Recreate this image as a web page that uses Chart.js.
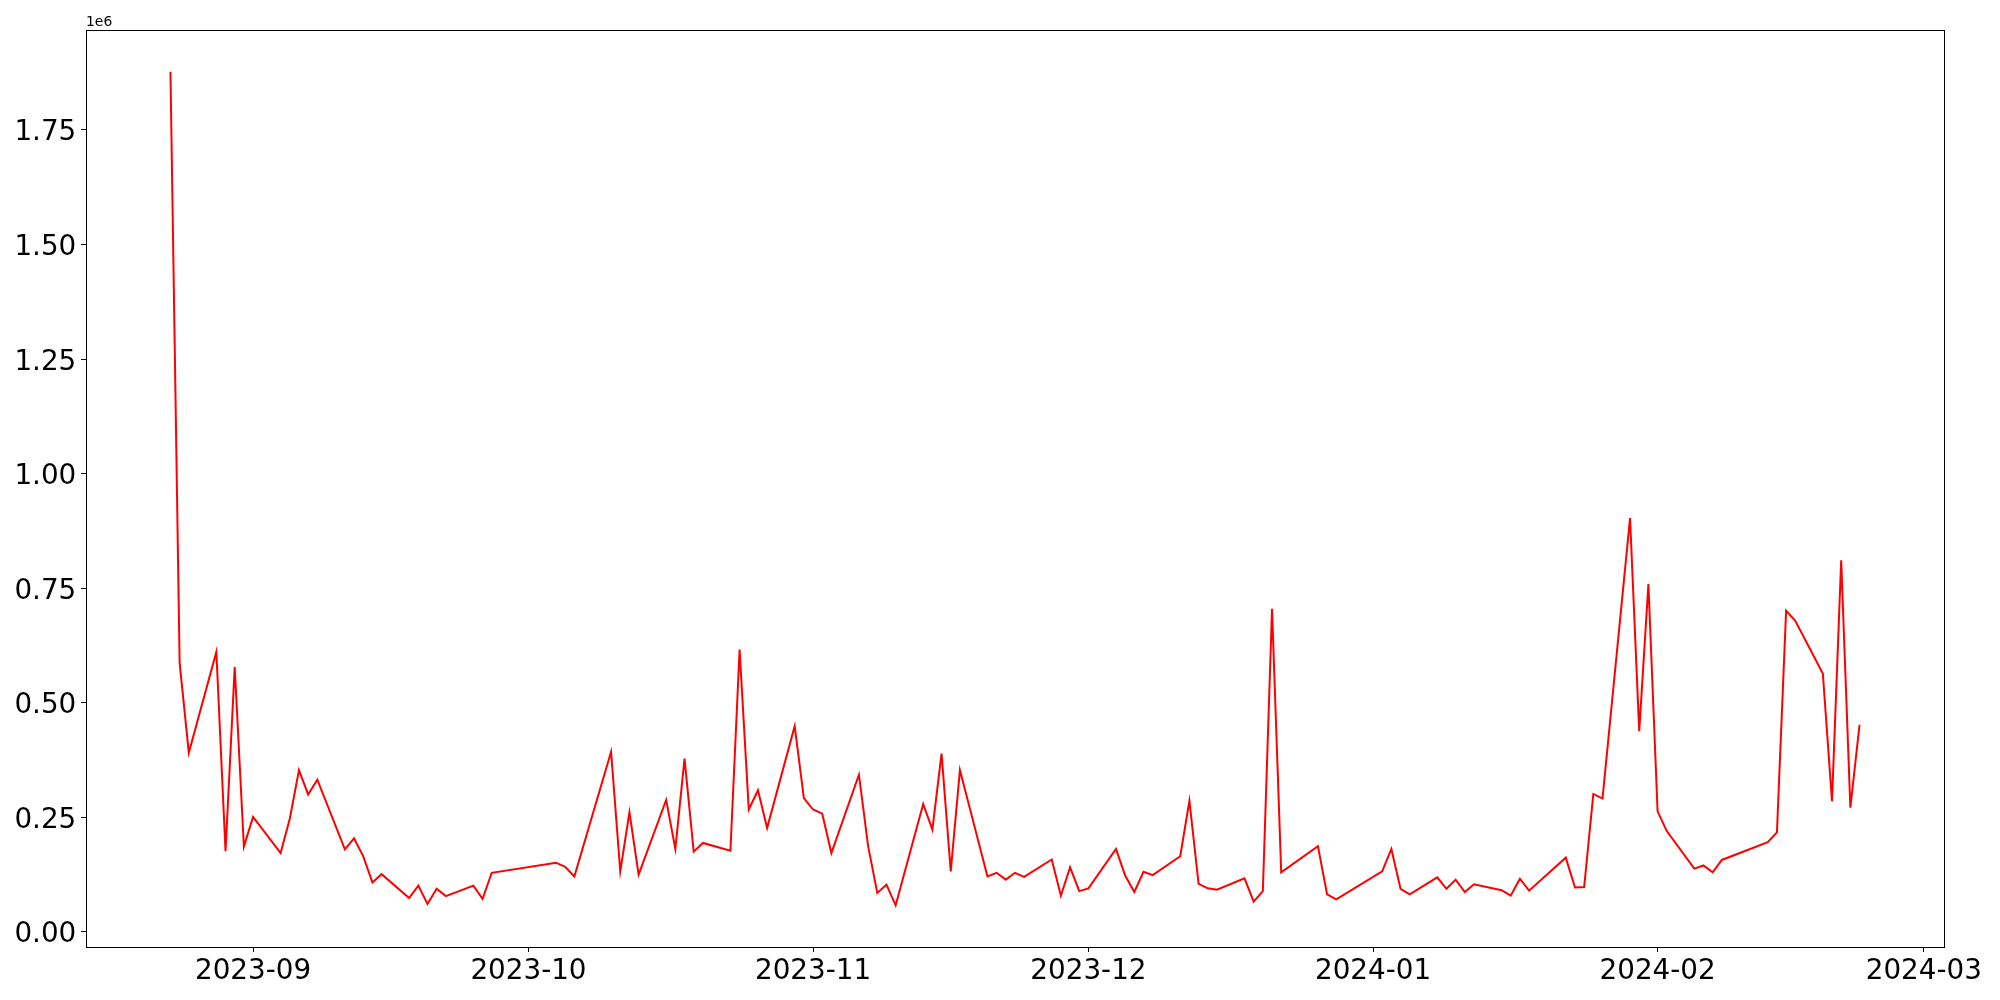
<!DOCTYPE html>
<html>
<head>
<meta charset="utf-8">
<script src="https://cdn.jsdelivr.net/npm/chart.js@4.4.0/dist/chart.umd.min.js"></script>
<style>
  body { margin: 0; background: #fff; }
  canvas { display: block; }
</style>
</head>
<body>
<canvas id="chart" width="2000" height="1000"></canvas>
<script>
// daily values (business days only, gaps are holidays)
const dates = [
  '2023-08-23','2023-08-24','2023-08-25','2023-08-28','2023-08-29','2023-08-30','2023-08-31',
  '2023-09-01','2023-09-04','2023-09-05','2023-09-06','2023-09-07','2023-09-08',
  '2023-09-11','2023-09-12','2023-09-13','2023-09-14','2023-09-15',
  '2023-09-18','2023-09-19','2023-09-20','2023-09-21','2023-09-22',
  '2023-09-25','2023-09-26','2023-09-27',
  '2023-10-04','2023-10-05','2023-10-06',
  '2023-10-10','2023-10-11','2023-10-12','2023-10-13',
  '2023-10-16','2023-10-17','2023-10-18','2023-10-19','2023-10-20',
  '2023-10-23','2023-10-24','2023-10-25','2023-10-26','2023-10-27',
  '2023-10-30','2023-10-31','2023-11-01','2023-11-02','2023-11-03',
  '2023-11-06','2023-11-07','2023-11-08','2023-11-09','2023-11-10',
  '2023-11-13','2023-11-14','2023-11-15','2023-11-16','2023-11-17',
  '2023-11-20','2023-11-21','2023-11-22','2023-11-23','2023-11-24',
  '2023-11-27','2023-11-28','2023-11-29','2023-11-30','2023-12-01',
  '2023-12-04','2023-12-05','2023-12-06','2023-12-07','2023-12-08',
  '2023-12-11','2023-12-12','2023-12-13','2023-12-14','2023-12-15',
  '2023-12-18','2023-12-19','2023-12-20','2023-12-21','2023-12-22',
  '2023-12-26','2023-12-27','2023-12-28',
  '2024-01-02','2024-01-03','2024-01-04','2024-01-05',
  '2024-01-08','2024-01-09','2024-01-10','2024-01-11','2024-01-12',
  '2024-01-15','2024-01-16','2024-01-17','2024-01-18',
  '2024-01-22','2024-01-23','2024-01-24','2024-01-25','2024-01-26',
  '2024-01-29','2024-01-30','2024-01-31','2024-02-01','2024-02-02',
  '2024-02-05','2024-02-06','2024-02-07','2024-02-08',
  '2024-02-13','2024-02-14','2024-02-15','2024-02-16',
  '2024-02-19','2024-02-20','2024-02-21','2024-02-22','2024-02-23'
];
const values = [
  1877000, 587000, 391000, 611000, 176000, 578000, 186000,
  251000, 172000, 247000, 353000, 300000, 332000,
  180000, 204000, 165000, 108000, 126000,
  74000, 101000, 61000, 94000, 78000,
  101000, 72000, 129000,
  151000, 142000, 121000,
  393000, 132000, 261000, 125000,
  288000, 181000, 378000, 175000, 194000,
  177000, 616000, 267000, 309000, 227000,
  449000, 292000, 267000, 258000, 172000,
  343000, 187000, 85000, 103000, 58000,
  279000, 223000, 389000, 132000, 353000,
  121000, 129000, 114000, 129000, 120000,
  158000, 79000, 141000, 89000, 95000,
  181000, 123000, 87000, 131000, 124000,
  165000, 286000, 105000, 95000, 92000,
  117000, 66000, 89000, 705000, 130000,
  187000, 82000, 71000,
  132000, 181000, 94000, 82000,
  119000, 94000, 114000, 87000, 104000,
  91000, 79000, 116000, 90000,
  162000, 97000, 98000, 301000, 291000,
  903000, 438000, 759000, 263000, 220000,
  138000, 145000, 130000, 157000,
  196000, 217000, 701000, 679000,
  564000, 285000, 811000, 271000, 452000
];

const xTickDates = ['2023-09-01','2023-10-01','2023-11-01','2023-12-01','2024-01-01','2024-02-01','2024-03-01'];
const xTickLabels = ['2023-09','2023-10','2023-11','2023-12','2024-01','2024-02','2024-03'];
const yTicks = [0, 250000, 500000, 750000, 1000000, 1250000, 1500000, 1750000];

function toDay(s) {
  const [y, m, d] = s.split('-').map(Number);
  return Date.UTC(y, m - 1, d) / 86400000;
}

const points = dates.map((d, i) => ({x: toDay(d), y: values[i]}));

// matplotlib style 5% margins
const xFirst = points[0].x, xLast = points[points.length - 1].x;
const xPad = (xLast - xFirst) * 0.05;
const yLo = Math.min(...values), yHi = Math.max(...values);
const yPad = (yHi - yLo) * 0.05;

const FONT = 'DejaVu Sans';

// frame, tick labels (placed on alphabetic baselines like matplotlib) and the 1e6 offset text
const framePlugin = {
  id: 'frame',
  afterDraw(chart) {
    const {ctx, chartArea: a} = chart;
    const xs = chart.scales.x, ys = chart.scales.y;
    ctx.save();
    ctx.strokeStyle = '#000';
    ctx.lineWidth = 1;
    ctx.strokeRect(a.left + 0.5, a.top + 0.5, a.right - a.left, a.bottom - a.top);

    ctx.fillStyle = '#000';
    ctx.textBaseline = 'alphabetic';
    ctx.font = '27.8px "' + FONT + '"';
    ctx.textAlign = 'center';
    xTickDates.forEach((d, i) => {
      ctx.fillText(xTickLabels[i], xs.getPixelForValue(toDay(d)), a.bottom + 32.3);
    });
    ctx.textAlign = 'right';
    yTicks.forEach(v => {
      ctx.fillText((v / 1e6).toFixed(2), a.left - 9.7, ys.getPixelForValue(v) + 10.6);
    });

    ctx.font = '13.9px "' + FONT + '"';
    ctx.textAlign = 'left';
    ctx.fillText('1e6', a.left, a.top - 4);
    ctx.restore();
  }
};

new Chart(document.getElementById('chart').getContext('2d'), {
  type: 'line',
  data: {
    datasets: [{
      data: points,
      borderColor: '#ff0000',
      borderWidth: 2,
      pointRadius: 0,
      tension: 0,
      fill: false
    }]
  },
  options: {
    responsive: false,
    animation: false,
    devicePixelRatio: 1,
    layout: {padding: {left: 0, top: 30, right: 56, bottom: 0}},
    plugins: {legend: {display: false}, tooltip: {enabled: false}},
    scales: {
      x: {
        type: 'linear',
        min: xFirst - xPad,
        max: xLast + xPad,
        border: {display: false},
        grid: {drawOnChartArea: false, drawTicks: true, tickLength: 5, color: '#000'},
        ticks: {display: false},
        afterBuildTicks: s => { s.ticks = xTickDates.map(d => ({value: toDay(d)})); },
        afterFit: s => { s.height = 53; }
      },
      y: {
        type: 'linear',
        min: yLo - yPad,
        max: yHi + yPad,
        border: {display: false},
        grid: {drawOnChartArea: false, drawTicks: true, tickLength: 5, color: '#000'},
        ticks: {display: false},
        afterBuildTicks: s => { s.ticks = yTicks.map(v => ({value: v})); },
        afterFit: s => { s.width = 86; }
      }
    }
  },
  plugins: [framePlugin]
});
</script>
</body>
</html>
